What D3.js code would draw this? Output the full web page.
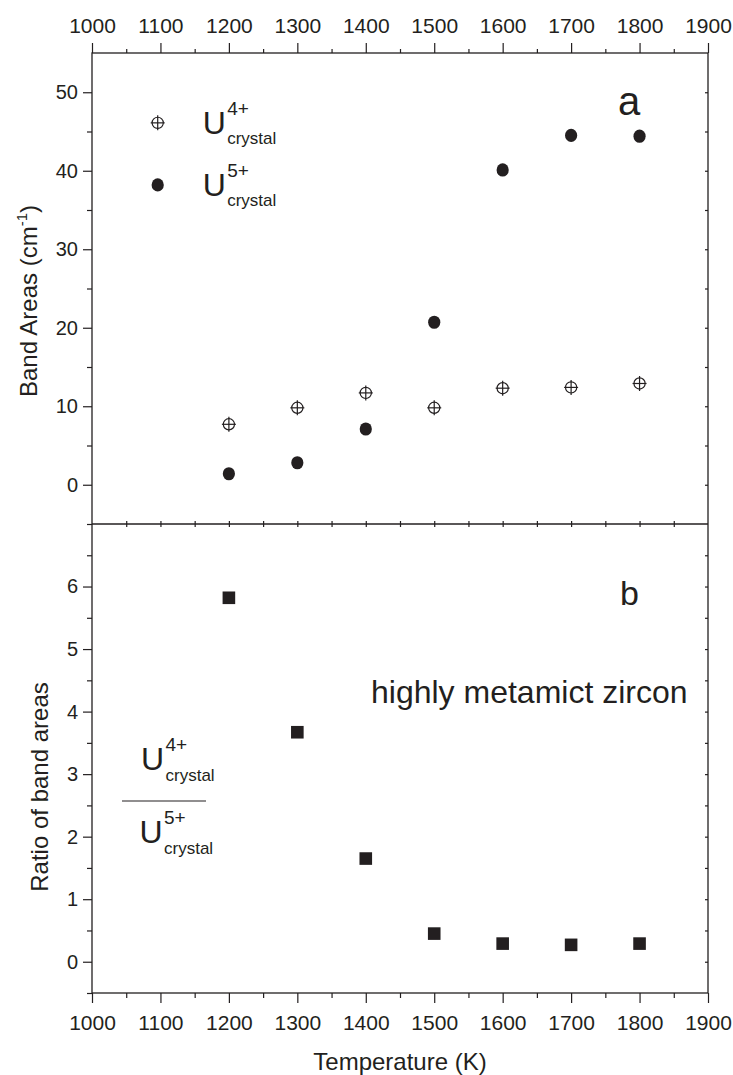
<!DOCTYPE html>
<html>
<head>
<meta charset="utf-8">
<script src="https://cdn.jsdelivr.net/npm/d3@7"></script>
<style>
body { margin: 0; background: #fff; }
svg text { font-family: "Liberation Sans", Arial, Helvetica, sans-serif; fill: #231f20; }
</style>
</head>
<body>
<svg id="chart"></svg>
<script>
// data
const temps = [1200, 1300, 1400, 1500, 1600, 1700, 1800];
const u4Area = [7.7, 9.8, 11.7, 9.8, 12.3, 12.4, 12.9];
const u5Area = [1.4, 2.8, 7.1, 20.7, 40.1, 44.5, 44.4];
const ratio = [5.82, 3.67, 1.65, 0.45, 0.29, 0.27, 0.29];

const xTicks = d3.range(1000, 1901, 100);
const xMinor = d3.range(1050, 1900, 100);
const topTicks = d3.range(0, 51, 10);
const topMinor = [-5, 5, 15, 25, 35, 45];
const botTicks = d3.range(0, 7, 1);
const botMinor = [-0.5, 0.5, 1.5, 2.5, 3.5, 4.5, 5.5, 6.5];

const ink = "#231f20";
const width = 733, height = 1075;

const svg = d3.select("#chart")
  .attr("width", width)
  .attr("height", height);

svg.append("rect").attr("width", width).attr("height", height).attr("fill", "#fff");

// scales (pixel frame of the two stacked panels)
const x = d3.scaleLinear().domain([1000, 1900]).range([92, 708]);
const yTop = d3.scaleLinear().domain([-5, 55]).range([524, 53]);
const yBot = d3.scaleLinear().domain([-0.5, 7]).range([993, 524]);

function styleAxis(g, fs) {
  g.select(".domain").remove();
  g.selectAll(".tick line").attr("stroke", ink).attr("stroke-width", 1.2);
  g.selectAll(".tick text").attr("font-size", fs).attr("fill", ink)
    .style("font-family", "'Liberation Sans', Arial, sans-serif");
}

// top x axis
svg.append("g").attr("transform", "translate(0,53)")
  .call(d3.axisTop(x).tickValues(xTicks).tickSize(10).tickPadding(10).tickFormat(d3.format("d")))
  .call(g => styleAxis(g, 21));
svg.append("g").attr("transform", "translate(0,53)")
  .call(d3.axisTop(x).tickValues(xMinor).tickSize(4).tickFormat(""))
  .call(g => styleAxis(g, 21));

// bottom x axis
svg.append("g").attr("transform", "translate(0,993)")
  .call(d3.axisBottom(x).tickValues(xTicks).tickSize(10).tickPadding(12).tickFormat(d3.format("d")))
  .call(g => styleAxis(g, 21));
svg.append("g").attr("transform", "translate(0,993)")
  .call(d3.axisBottom(x).tickValues(xMinor).tickSize(5).tickFormat(""))
  .call(g => styleAxis(g, 21));

// tiny inward ticks on the shared middle line
const midTicks = d3.range(1050, 1900, 50);
svg.append("g").attr("transform", "translate(0,524)")
  .call(d3.axisTop(x).tickValues(midTicks).tickSize(3).tickFormat(""))
  .call(g => styleAxis(g, 0));
svg.append("g").attr("transform", "translate(0,524)")
  .call(d3.axisBottom(x).tickValues(midTicks).tickSize(3).tickFormat(""))
  .call(g => styleAxis(g, 0));

// left axes
svg.append("g").attr("transform", "translate(92,0)")
  .call(d3.axisLeft(yTop).tickValues(topTicks).tickSize(9).tickPadding(5))
  .call(g => styleAxis(g, 20));
svg.append("g").attr("transform", "translate(92,0)")
  .call(d3.axisLeft(yTop).tickValues(topMinor).tickSize(5).tickFormat(""))
  .call(g => styleAxis(g, 20));
svg.append("g").attr("transform", "translate(92,0)")
  .call(d3.axisLeft(yBot).tickValues(botTicks).tickSize(9).tickPadding(5))
  .call(g => styleAxis(g, 20));
svg.append("g").attr("transform", "translate(92,0)")
  .call(d3.axisLeft(yBot).tickValues(botMinor).tickSize(5).tickFormat(""))
  .call(g => styleAxis(g, 20));

// right axes, short inward ticks
svg.append("g").attr("transform", "translate(708,0)")
  .call(d3.axisLeft(yTop).tickValues(d3.range(0, 51, 5)).tickSize(3).tickFormat(""))
  .call(g => styleAxis(g, 0));
svg.append("g").attr("transform", "translate(708,0)")
  .call(d3.axisLeft(yBot).tickValues(d3.range(0, 6.6, 0.5)).tickSize(3).tickFormat(""))
  .call(g => styleAxis(g, 0));

// frame
const frame = svg.append("g").attr("stroke", ink).attr("stroke-width", 1.3).attr("fill", "none");
frame.append("rect").attr("x", x(1000)).attr("y", yTop(55))
  .attr("width", x(1900) - x(1000)).attr("height", yBot(-0.5) - yTop(55));
frame.append("line").attr("x1", x(1000)).attr("x2", x(1900)).attr("y1", yTop(-5)).attr("y2", yTop(-5));

// panel a points
const u4 = temps.map((t, i) => ({ t: t, v: u4Area[i] }));
const u5 = temps.map((t, i) => ({ t: t, v: u5Area[i] }));
const rt = temps.map((t, i) => ({ t: t, v: ratio[i] }));

function crossCircle(sel) {
  sel.append("circle").attr("r", 5.6).attr("fill", "none").attr("stroke", ink).attr("stroke-width", 1.2);
  sel.append("line").attr("x1", -7).attr("x2", 7).attr("stroke", ink).attr("stroke-width", 1.2);
  sel.append("line").attr("y1", -7.5).attr("y2", 7.5).attr("stroke", ink).attr("stroke-width", 1.2);
}

svg.append("g").selectAll("g")
  .data(u4).enter().append("g")
  .attr("transform", d => "translate(" + x(d.t) + "," + yTop(d.v) + ")")
  .call(crossCircle);

svg.append("g").selectAll("ellipse")
  .data(u5).enter().append("ellipse")
  .attr("cx", d => x(d.t))
  .attr("cy", d => yTop(d.v))
  .attr("rx", 6.1).attr("ry", 6.6)
  .attr("fill", ink);

// panel b squares
const sq = 12.6;
svg.append("g").selectAll("rect")
  .data(rt).enter().append("rect")
  .attr("x", d => x(d.t) - sq / 2)
  .attr("y", d => yBot(d.v) - sq / 2)
  .attr("width", sq).attr("height", sq)
  .attr("fill", ink);

// U label with charge and "crystal"
function uLabel(px, py, charge) {
  const g = svg.append("g");
  g.append("text").attr("x", px).attr("y", py).attr("font-size", 32).text("U");
  g.append("text").attr("x", px + 24.5).attr("y", py - 19).attr("font-size", 19).text(charge);
  g.append("text").attr("x", px + 24.5).attr("y", py + 10.5).attr("font-size", 17).text("crystal");
}

// legend
const legT = 1096;
const legend = [{ v: 46.1, c: "4+" }, { v: 38.2, c: "5+" }];
legend.forEach((l, i) => {
  const gx = x(legT), gy = yTop(l.v);
  const g = svg.append("g").attr("transform", "translate(" + gx + "," + gy + ")");
  if (i === 0) crossCircle(g);
  else g.append("ellipse").attr("rx", 6.1).attr("ry", 6.6).attr("fill", ink);
  uLabel(gx + 45, gy + 11, l.c);
});

// ratio fraction annotation
uLabel(141, 770, "4+");
svg.append("line").attr("x1", 122).attr("x2", 206).attr("y1", 801).attr("y2", 801)
  .attr("stroke", ink).attr("stroke-width", 1.2);
uLabel(139.5, 843, "5+");

// panel letters and note
svg.append("text").attr("x", 618).attr("y", 115).attr("font-size", 40).text("a");
svg.append("text").attr("x", 620).attr("y", 605).attr("font-size", 34).text("b");
svg.append("text").attr("x", 371).attr("y", 703).attr("font-size", 32).text("highly metamict zircon");

// axis titles
svg.append("text")
  .attr("text-anchor", "middle")
  .attr("transform", "translate(400,1070)")
  .attr("font-size", 24)
  .text("Temperature (K)");

const t1 = svg.append("text")
  .attr("text-anchor", "middle")
  .attr("transform", "translate(37,301) rotate(-90)")
  .attr("font-size", 24);
t1.append("tspan").text("Band Areas (cm");
t1.append("tspan").attr("font-size", 15).attr("dy", -10).text("-1");
t1.append("tspan").attr("dy", 10).text(")");

svg.append("text")
  .attr("text-anchor", "middle")
  .attr("transform", "translate(48,787) rotate(-90)")
  .attr("font-size", 24)
  .text("Ratio of band areas");
</script>
</body>
</html>
